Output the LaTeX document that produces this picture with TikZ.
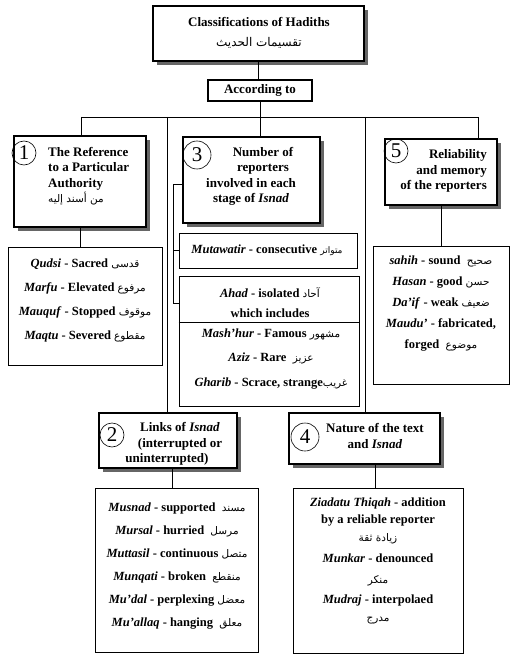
\documentclass[tikz,border=0pt]{standalone}
\usepackage{fontspec}
\setmainfont{Liberation Serif}
\newfontfamily\arabicfont[Script=Arabic]{DejaVu Sans}
\TeXXeTstate=1
\usetikzlibrary{shadows}
\newcommand{\artxt}[2][10.5]{{\arabicfont\mdseries\fontsize{#1}{12}\selectfont\beginR #2\endR}}

\tikzset{
  headbox/.style={draw, line width=1.1pt, fill=white, inner sep=0pt,
    drop shadow={shadow xshift=4pt, shadow yshift=-4pt, fill=black!60, opacity=1}},
  listbox/.style={draw, line width=0.8pt, inner sep=0pt},
  numcirc/.style={circle, draw, line width=0.6pt, inner sep=0pt, font=\mdseries\fontsize{21}{21}\selectfont},
  txt/.style={inner sep=0pt, align=center, font=\bfseries\fontsize{13}{15.5}\selectfont},
  conn/.style={line width=0.7pt}
}

\begin{document}
\begin{tikzpicture}[x=1pt,y=-1pt]
        \useasboundingbox[fill=white] (0,0) rectangle (515,660);
        % top
        \node[headbox, line width=1.5pt, minimum width=211pt, minimum height=55pt] (title) at (258.5,33.5) {};
        \node[txt, font=\bfseries\fontsize{13}{20}\selectfont] (titletxt) at (259,32.5) {Classifications of Hadiths\\ \artxt[12]{تقسيمات الحديث}};
        \node[draw, line width=1.6pt, inner sep=0pt, minimum width=104pt, minimum height=21pt, txt] (according) at (260,90.5) {According to};
        % box 1
        \node[headbox, minimum width=132pt, minimum height=91pt] (ref) at (80,181.5) {};
        \node[numcirc, minimum size=24pt] (n1) at (24,153) {1};
        \node[txt, align=left, anchor=west] (reftxt) at (48,176) {The Reference\\ to a Particular\\ Authority\\ \artxt{من أسند إليه}};
        \node[listbox, minimum width=154pt, minimum height=118pt] (refl) at (85,306) {};
        \node[txt, font=\bfseries\fontsize{12.5}{24.3}\selectfont] (refltxt) at (85,300.5) {\textit{Qudsi} - Sacred \artxt{قدسى}\\
          \textit{Marfu} - Elevated \artxt{مرفوع}\\
          \textit{Mauquf} - Stopped \artxt{موقوف}\\
          \textit{Maqtu} - Severed \artxt{مقطوع}};
        % box 3
        \node[headbox, minimum width=137pt, minimum height=86pt] (number) at (251.5,180) {};
        \node[numcirc, minimum size=28pt] (n3) at (197,155) {3};
        \node[txt] (numbertxt) at (251,176.5) {\hspace*{24pt}Number of\\ \hspace*{24pt}reporters\\ involved in each\\ stage of \textit{Isnad}};
        \node[listbox, minimum width=178pt, minimum height=35pt] (mutawatir) at (268,250.5) {};
        \node[txt, font=\bfseries\fontsize{12.5}{15}\selectfont] (mutawatirtxt) at (267,250.5) {\textit{Mutawatir} - consecutive \artxt[9]{متواتر}};
        \node[listbox, minimum width=180pt, minimum height=130pt] (ahad) at (269,341) {};
        \coordinate (div) at (0,322);
        \node[txt, font=\bfseries\fontsize{12.5}{20}\selectfont] (ahadtxt) at (270,302.5) {\textit{Ahad} - isolated \artxt{آحاد}\\ which includes};
        \node[txt, font=\bfseries\fontsize{12.5}{24.5}\selectfont] (ahadl) at (271,359) {\textit{Mash'hur} - Famous \artxt{مشهور}\\
          \textit{Aziz} - Rare \ \artxt{عزيز}\\
          \textit{Gharib} - Scrace, strange\artxt{غريب}};
        % box 5
        \node[headbox, minimum width=112pt, minimum height=66pt] (reliab) at (441,172) {};
        \node[numcirc, minimum size=24pt] (n5) at (396,151) {5};
        \node[txt, align=right, anchor=east] (reliabtxt) at (487,171) {Reliability\\ and memory\\ of the reporters};
        \node[listbox, minimum width=136pt, minimum height=138pt] (reliabl) at (441,315) {};
        \node[txt, font=\bfseries\fontsize{12.5}{20.8}\selectfont] (reliabltxt) at (441,303.5) {\textit{sahih} - sound \ \artxt{صحيح}\\
          \textit{Hasan} - good \artxt{حسن}\\
          \textit{Da'if} - weak \artxt{ضعيف}\\
          \textit{Maudu'} - fabricated,\\
          forged \ \artxt{موضوع}};
        % box 2
        \node[headbox, minimum width=138pt, minimum height=55pt] (links) at (168,440.5) {};
        \node[numcirc, minimum size=24pt] (n2) at (112,435) {2};
        \node[txt] (linkstxt) at (167,444) {\hspace*{26pt}Links of \textit{Isnad}\\ \hspace*{26pt}(interrupted or\\ uninterrupted)};
        \node[listbox, minimum width=163pt, minimum height=164pt] (linksl) at (176.5,570) {};
        \node[txt, font=\bfseries\fontsize{12.5}{23}\selectfont] (linksltxt) at (177,566.5) {\textit{Musnad} - supported \ \artxt{مسند}\\
          \textit{Mursal} - hurried \ \artxt{مرسل}\\
          \textit{Muttasil} - continuous \artxt{متصل}\\
          \textit{Munqati} - broken \ \artxt{منقطع}\\
          \textit{Mu'dal} - perplexing \artxt{معضل}\\
          \textit{Mu'allaq} - hanging \ \artxt{معلق}};
        % box 4
        \node[headbox, minimum width=151pt, minimum height=51pt] (nature) at (364.5,438.5) {};
        \node[numcirc, minimum size=28pt] (n4) at (305,437) {4};
        \node[txt] (naturetxt) at (375,436) {Nature of the text\\ and \textit{Isnad}};
        \node[listbox, minimum width=170pt, minimum height=165pt] (naturel) at (378,570.5) {};
        \node[txt, font=\bfseries\fontsize{12.5}{17.5}\selectfont] (ziadatu) at (378,520.5) {\textit{Ziadatu Thiqah} - addition\\ by a reliable reporter\\ \artxt{زيادة ثقة}};
        \node[txt, font=\bfseries\fontsize{12.5}{21}\selectfont] (munkar) at (378,569.5) {\textit{Munkar} - denounced\\ \artxt{منكر}};
        \node[txt, font=\bfseries\fontsize{12.5}{18}\selectfont] (mudraj) at (378,609) {\textit{Mudraj} - interpolaed\\ \artxt{مدرج}};
        % connectors
        \coordinate (bus1) at (81,117);
        \coordinate (bus2) at (167,117);
        \coordinate (bus4) at (365,117);
        \coordinate (bus5) at (478,117);
        \draw[conn] (title.south) -- (title.south |- according.north);
        \draw[conn] (according.south) -- (according.south |- number.north);
        \draw[conn] (bus1) -- (bus5);
        \draw[conn] (bus1) -- (bus1 |- ref.north);
        \draw[conn] (bus2) -- (bus2 |- links.north);
        \draw[conn] (bus4) -- (bus4 |- nature.north);
        \draw[conn] (bus5) -- (bus5 |- reliab.north);
        \draw[conn] (ref.south) -- (ref.south |- refl.north);
        \draw[conn] (reliab.south) -- (reliab.south |- reliabl.north);
        \draw[conn] ([xshift=4pt]links.south) -- ([xshift=4pt]links.south |- linksl.north);
        \draw[conn] ([xshift=11pt]nature.south) -- ([xshift=11pt]nature.south |- naturel.north);
        % bracket for box 3
        \coordinate (brk1) at (173,184);
        \coordinate (brk2) at (173,303);
        \draw[conn] (brk1 -| number.west) -- (brk1) -- (brk2) -- (brk2 -| ahad.west);
        \draw[conn] (brk1 |- mutawatir.west) -- (mutawatir.west);
        \draw[line width=0.8pt] (div -| ahad.west) -- (div -| ahad.east);
    \end{tikzpicture}
\end{document}
